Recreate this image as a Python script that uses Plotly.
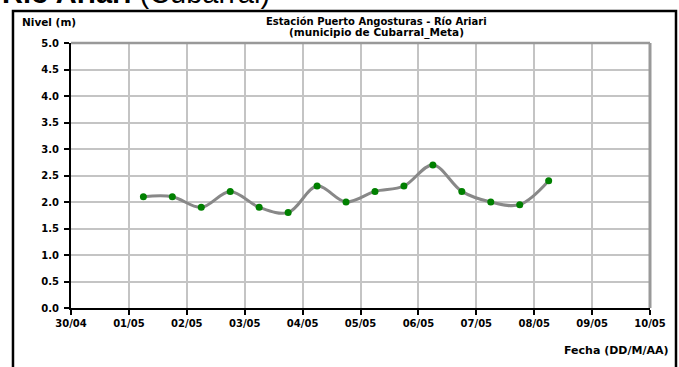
import plotly.graph_objects as go

fechas = ["2023-05-01 06:00", "2023-05-01 18:00", "2023-05-02 06:00", "2023-05-02 18:00",
          "2023-05-03 06:00", "2023-05-03 18:00", "2023-05-04 06:00", "2023-05-04 18:00",
          "2023-05-05 06:00", "2023-05-05 18:00", "2023-05-06 06:00", "2023-05-06 18:00",
          "2023-05-07 06:00", "2023-05-07 18:00", "2023-05-08 06:00"]
nivel = [2.1, 2.1, 1.9, 2.2, 1.9, 1.8, 2.3, 2.0, 2.2, 2.3, 2.7, 2.2, 2.0, 1.95, 2.4]

y_ticks = [0.0, 0.5, 1.0, 1.5, 2.0, 2.5, 3.0, 3.5, 4.0, 4.5, 5.0]

FONT = "Arial, 'Liberation Sans', sans-serif"
WIDE = "'DejaVu Sans', Verdana, sans-serif"

fig = go.Figure()
fig.add_trace(go.Scatter(
    x=fechas, y=nivel, mode="lines+markers",
    line=dict(color="#888888", width=3, shape="spline", smoothing=1.0),
    marker=dict(color="#008000", size=7),
    showlegend=False, hoverinfo="x+y",
))

fig.update_layout(
    width=679, height=367,
    margin=dict(l=71, r=29, t=43, b=59),
    paper_bgcolor="white", plot_bgcolor="white",
    font=dict(family=WIDE, color="black", size=10),
    xaxis=dict(
        type="date", range=["2023-04-30", "2023-05-10"],
        dtick=86400000, tick0="2023-04-30", tickformat="<b>%d/%m</b>",
        showgrid=True, gridcolor="#c4c4c4", gridwidth=1.5,
        showline=True, linecolor="black", linewidth=2,
        ticks="outside", ticklen=5, tickcolor="black", tickwidth=1.5,
        tickfont=dict(size=10, family=WIDE), zeroline=False,
    ),
    yaxis=dict(
        range=[0, 5], tickvals=y_ticks,
        ticktext=[f"<b>{v:.1f}</b>" for v in y_ticks],
        showgrid=True, gridcolor="#c4c4c4", gridwidth=1.5,
        showline=True, linecolor="black", linewidth=2,
        ticks="outside", ticklen=5, tickcolor="black", tickwidth=1.5,
        ticklabelstandoff=3,
        tickfont=dict(size=10, family=WIDE), zeroline=False,
    ),
)

# plot frame (top and right, gray)
fig.add_shape(type="line", xref="paper", yref="paper", x0=0, x1=1, y0=1, y1=1,
              line=dict(color="#999999", width=2.5))
fig.add_shape(type="line", xref="paper", yref="paper", x0=1, x1=1, y0=0, y1=1,
              line=dict(color="#999999", width=3))
# outer black border
fig.add_shape(type="rect", xref="paper", yref="paper",
              x0=-0.1002, x1=1.0449, y0=-0.30, y1=1.1208,
              line=dict(color="black", width=2.5), layer="above")

fig.add_annotation(xref="paper", yref="paper", x=-0.122, y=1.187,
                   xanchor="left", yanchor="middle", showarrow=False,
                   text="<b>Río Ariari</b> (Cubarral)",
                   font=dict(size=29, family=FONT, color="black"))
fig.add_annotation(xref="paper", yref="paper", x=0.5276, y=(308 - 21) / 265,
                   xanchor="center", yanchor="middle", showarrow=False,
                   text="<b>Estación Puerto Angosturas - Río Ariari</b>",
                   font=dict(size=10, family=WIDE, color="black"))
fig.add_annotation(xref="paper", yref="paper", x=0.5276, y=(308 - 32) / 265,
                   xanchor="center", yanchor="middle", showarrow=False,
                   text="<b>(municipio de Cubarral_Meta)</b>",
                   font=dict(size=10.5, family=WIDE, color="black"))
fig.add_annotation(xref="paper", yref="paper", x=-0.088, y=(308 - 22.5) / 265,
                   xanchor="left", yanchor="middle", showarrow=False,
                   text="<b>Nivel (m)</b>",
                   font=dict(size=10.5, family=WIDE, color="black"))
fig.add_annotation(xref="paper", yref="paper", x=1.0345, y=-0.1585,
                   xanchor="right", yanchor="middle", showarrow=False,
                   text="<b>Fecha (DD/M/AA)</b>",
                   font=dict(size=11, family=WIDE, color="black"))

fig.write_html("out.html", config={"displayModeBar": False},
               post_script="document.body.style.margin='0';document.body.style.overflow='hidden';")
